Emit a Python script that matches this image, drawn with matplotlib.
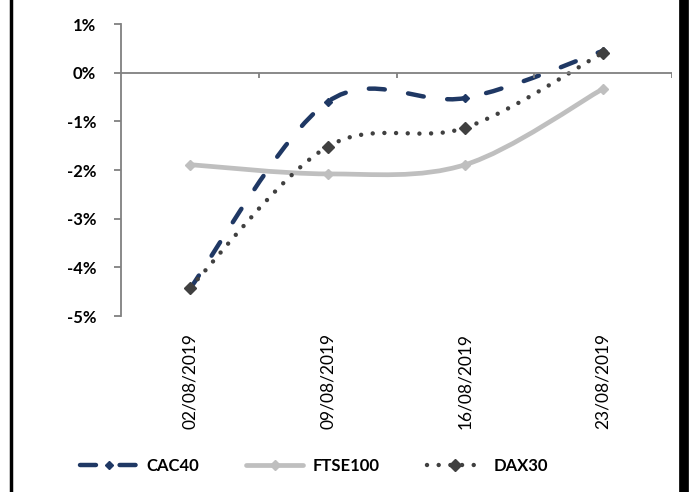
import matplotlib
matplotlib.use("Agg")
import matplotlib.pyplot as plt
from matplotlib.path import Path
from matplotlib.patches import PathPatch
from matplotlib.lines import Line2D
import numpy as np

plt.rcParams['font.family'] = ['Lato', 'DejaVu Sans']
plt.rcParams['lines.scale_dashes'] = False

# Weekly performance of European indices
dates = ["02/08/2019", "09/08/2019", "16/08/2019", "23/08/2019"]
cac40 = [-4.44, -0.60, -0.52, 0.45]
ftse100 = [-1.89, -2.08, -1.89, -0.33]
dax30 = [-4.42, -1.52, -1.13, 0.41]


def smooth_path(xs, ys):
    # Excel-style smoothed line: cubic Bezier through every point
    pts = np.column_stack([xs, ys]).astype(float)
    ext = np.vstack([pts[0], pts, pts[-1]])
    verts = [pts[0]]
    codes = [Path.MOVETO]
    for i in range(len(pts) - 1):
        p0, p1, p2, p3 = ext[i], ext[i + 1], ext[i + 2], ext[i + 3]
        verts += [p1 + (p2 - p0) / 6, p2 - (p3 - p1) / 6, p2]
        codes += [Path.CURVE4] * 3
    return Path(verts, codes)


fig = plt.figure(figsize=(6.89, 4.92), dpi=100)
ax = fig.add_axes([121 / 689, 1 - 316 / 492, (672 - 121) / 689, (316 - 24) / 492])

x = np.arange(len(dates))
series = [
    ("CAC40", cac40, "#1F3864", (0, (11.5, 17)), 3.2, 4),
    ("FTSE100", ftse100, "#BFBFBF", "-", 3.4, 5),
    ("DAX30", dax30, "#404040", (0, (0.01, 8.4)), 3.2, 6),
]

handles = []
for name, vals, color, ls, lw, ms in series:
    patch = PathPatch(smooth_path(x, vals), facecolor="none", edgecolor=color,
                      linewidth=lw, linestyle=ls, capstyle="round", clip_on=False)
    ax.add_patch(patch)
    ax.plot(x, vals, linestyle="none", marker="D", markersize=ms,
            color=color, clip_on=False, zorder=3)
    handles.append(Line2D([], [], color=color, linewidth=lw, linestyle=ls,
                          dash_capstyle="round", solid_capstyle="round",
                          marker="D", markersize=ms))

ax.set_xlim(-0.5, len(dates) - 0.5)
ax.set_ylim(-5, 1)

# zero line with category boundary ticks
ax.axhline(0, color="#808080", linewidth=1.3, zorder=1)
ax.vlines(np.arange(len(dates)) + 0.5, -0.1, 0, color="#808080", linewidth=1.3)

for s in ["top", "right", "bottom"]:
    ax.spines[s].set_visible(False)
ax.spines["left"].set_color("#808080")
ax.spines["left"].set_linewidth(1.3)

ax.set_yticks(np.arange(-5, 2, 1))
ax.set_yticklabels([f"{v}%" for v in range(-5, 2)], fontsize=12, fontweight="bold")
ax.tick_params(axis="y", length=5, width=1.3, color="#808080", pad=13)

ax.set_xticks(x)
ax.set_xticklabels(dates, rotation=90, fontsize=12.5)
ax.tick_params(axis="x", length=0, pad=12)

leg = fig.legend(handles, [s[0] for s in series], loc="center",
                 bbox_to_anchor=(314 / 689, 1 - 466 / 492), ncol=3, frameon=False,
                 handlelength=3.4, columnspacing=2.8, handletextpad=0.6,
                 prop={"size": 12, "weight": "bold"})

# border lines at the figure edges
fig.add_artist(Line2D([11 / 689, 11 / 689], [0, 1], color="black", linewidth=2.5))
fig.add_artist(Line2D([684 / 689, 684 / 689], [0, 1], color="black", linewidth=7))

fig.savefig("out.png", dpi=100)
